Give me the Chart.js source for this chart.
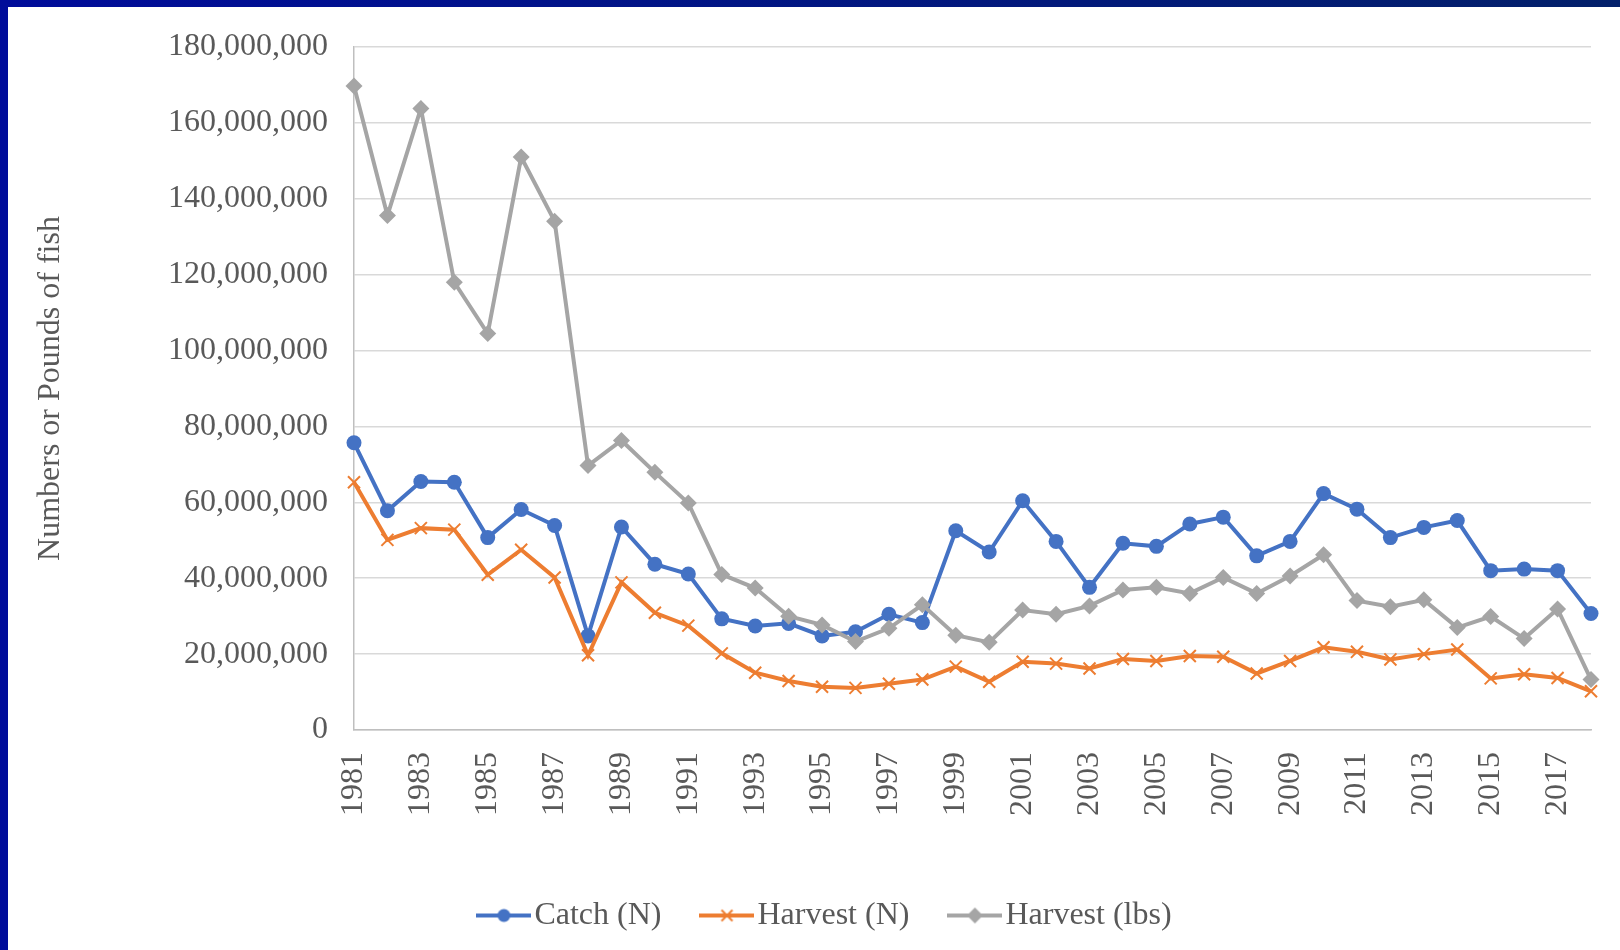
<!DOCTYPE html>
<html>
<head>
<meta charset="utf-8">
<title>Catch and harvest</title>
<script src="https://cdn.jsdelivr.net/npm/chart.js@4"></script>
<style>
  body { margin: 0; background: #fff; }
  #wrap { position: relative; width: 1620px; height: 950px; }
  #edge-left { position: absolute; left: 0; top: 0; width: 8px; height: 950px; background: #000c9a; }
  #edge-top { position: absolute; left: 0; top: 0; width: 1620px; height: 7px; background: linear-gradient(to right, #000c9a, #03206a); }
</style>
</head>
<body>
<div id="wrap">
  <canvas id="fish-chart"></canvas>
  <div id="edge-left"></div>
  <div id="edge-top"></div>
</div>
<script>
// DATA
const years = [
  "1981", "1982", "1983", "1984", "1985", "1986", "1987", "1988", "1989", "1990",
  "1991", "1992", "1993", "1994", "1995", "1996", "1997", "1998", "1999", "2000",
  "2001", "2002", "2003", "2004", "2005", "2006", "2007", "2008", "2009", "2010",
  "2011", "2012", "2013", "2014", "2015", "2016", "2017", "2018",
]
const catchN = [
  75700000, 57800000, 65500000, 65300000, 50700000, 58100000, 53900000, 24800000, 53500000, 43700000,
  41100000, 29300000, 27400000, 28100000, 24800000, 25900000, 30500000, 28300000, 52500000, 46900000,
  60400000, 49700000, 37600000, 49200000, 48400000, 54300000, 56100000, 45900000, 49700000, 62300000,
  58200000, 50700000, 53400000, 55200000, 42000000, 42400000, 42000000, 30700000,
]
const harvestN = [
  65300000, 50100000, 53200000, 52800000, 40900000, 47500000, 40200000, 19700000, 38900000, 30900000,
  27500000, 20200000, 15100000, 12900000, 11400000, 11100000, 12200000, 13300000, 16700000, 12700000,
  18000000, 17500000, 16200000, 18700000, 18200000, 19500000, 19300000, 14900000, 18200000, 21800000,
  20600000, 18600000, 20000000, 21200000, 13600000, 14700000, 13700000, 10200000,
]
const harvestLbs = [
  169700000, 135600000, 163800000, 118000000, 104500000, 151000000, 134100000, 69700000, 76300000, 67900000,
  59800000, 41000000, 37400000, 30000000, 27700000, 23300000, 26800000, 33000000, 25000000, 23100000,
  31600000, 30500000, 32700000, 36900000, 37600000, 36000000, 40200000, 36000000, 40600000, 46200000,
  34100000, 32500000, 34300000, 27000000, 29900000, 24100000, 31900000, 13300000,
]
const yTicksMax = 180000000
const yTicksStep = 20000000

const textGrey = "#595959"
Chart.defaults.font.family = "'Liberation Serif', 'Times New Roman', serif"
Chart.defaults.font.size = 32
Chart.defaults.color = textGrey

// legend icons: short line with the marker in the middle
function legendIcon(color, marker) {
  const c = document.createElement("canvas")
  c.width = 55
  c.height = 20
  const ctx = c.getContext("2d")
  ctx.strokeStyle = color
  ctx.fillStyle = color
  ctx.lineWidth = 4
  ctx.beginPath()
  ctx.moveTo(0, 10)
  ctx.lineTo(55, 10)
  ctx.stroke()
  ctx.beginPath()
  if (marker === "circle") {
    ctx.arc(27.5, 10, 6.5, 0, Math.PI * 2)
    ctx.fill()
  } else if (marker === "cross") {
    ctx.lineWidth = 2
    ctx.moveTo(22, 4.5)
    ctx.lineTo(33, 15.5)
    ctx.moveTo(33, 4.5)
    ctx.lineTo(22, 15.5)
    ctx.stroke()
  } else {
    ctx.moveTo(27.5, 2)
    ctx.lineTo(35.5, 10)
    ctx.lineTo(27.5, 18)
    ctx.lineTo(19.5, 10)
    ctx.closePath()
    ctx.fill()
  }
  return c
}

const blue = "#4472C4"
const orange = "#ED7D31"
const grey = "#A5A5A5"

const fishData = {
  labels: years,
  datasets: [
    {
      label: "Catch (N)",
      data: catchN,
      borderColor: blue,
      backgroundColor: blue,
      borderWidth: 4,
      pointStyle: "circle",
      pointRadius: 7.5,
      pointBorderWidth: 0,
      order: 3,
      icon: legendIcon(blue, "circle"),
    },
    {
      label: "Harvest (N)",
      data: harvestN,
      borderColor: orange,
      backgroundColor: orange,
      borderWidth: 4,
      pointStyle: "crossRot",
      pointRadius: 8.5,
      pointBorderWidth: 2,
      order: 2,
      icon: legendIcon(orange, "cross"),
    },
    {
      label: "Harvest (lbs)",
      data: harvestLbs,
      borderColor: grey,
      backgroundColor: grey,
      borderWidth: 4,
      pointStyle: "rectRot",
      pointRadius: 8.5,
      pointBorderWidth: 0,
      order: 1,
      icon: legendIcon(grey, "diamond"),
    },
  ],
}

// nudge the legend sideways to where the original sits
const legendShift = {
  id: "legendShift",
  afterLayout(chart) {
    chart.legend.left += 35
    chart.legend.right += 35
  },
}

const fishOptions = {
  responsive: true,
  maintainAspectRatio: false,
  animation: false,
  layout: {
    padding: { top: 47, right: 29, bottom: 8.5, left: 0 },
  },
  elements: {
    line: { tension: 0 },
  },
  datasets: {
    line: { clip: false },
  },
  scales: {
    x: {
      grid: { display: false, drawTicks: false },
      border: { display: true, color: "#BFBFBF", width: 1.5 },
      ticks: {
        autoSkip: false,
        maxRotation: 90,
        minRotation: 90,
        padding: 22,
        color: textGrey,
        callback: function (value, index) {
          return index % 2 === 0 ? this.getLabelForValue(value) : ""
        },
      },
      afterFit(scale) {
        scale.height = 118.5
        scale.paddingLeft = 0
        scale.paddingRight = 0
      },
    },
    y: {
      min: 0,
      max: yTicksMax,
      grid: { color: "#D9D9D9", lineWidth: 1.5, drawTicks: false },
      border: { display: true, color: "#BFBFBF", width: 1.5 },
      ticks: {
        stepSize: yTicksStep,
        padding: 26,
        color: textGrey,
        callback: (value) => value.toLocaleString("en-US"),
      },
      title: {
        display: true,
        text: "Numbers or Pounds of fish",
        color: textGrey,
        padding: { top: 31, bottom: 0 },
      },
      afterFit(scale) {
        scale.width = 354
      },
    },
  },
  plugins: {
    legend: {
      position: "bottom",
      labels: {
        usePointStyle: true,
        pointStyleWidth: 29,
        padding: 51,
        color: textGrey,
        sort: (a, b) => a.datasetIndex - b.datasetIndex,
        generateLabels(chart) {
          return chart.data.datasets.map((ds, i) => ({
            text: ds.label,
            pointStyle: ds.icon,
            fillStyle: ds.borderColor,
            strokeStyle: ds.borderColor,
            lineWidth: 0,
            fontColor: textGrey,
            datasetIndex: i,
            hidden: false,
          }))
        },
      },
    },
    tooltip: { enabled: false },
  },
}

const fishCanvas = document.getElementById("fish-chart")
let fishChart = new Chart(fishCanvas, {
  type: "line",
  data: fishData,
  options: fishOptions,
  plugins: [legendShift],
})
</script>
</body>
</html>
